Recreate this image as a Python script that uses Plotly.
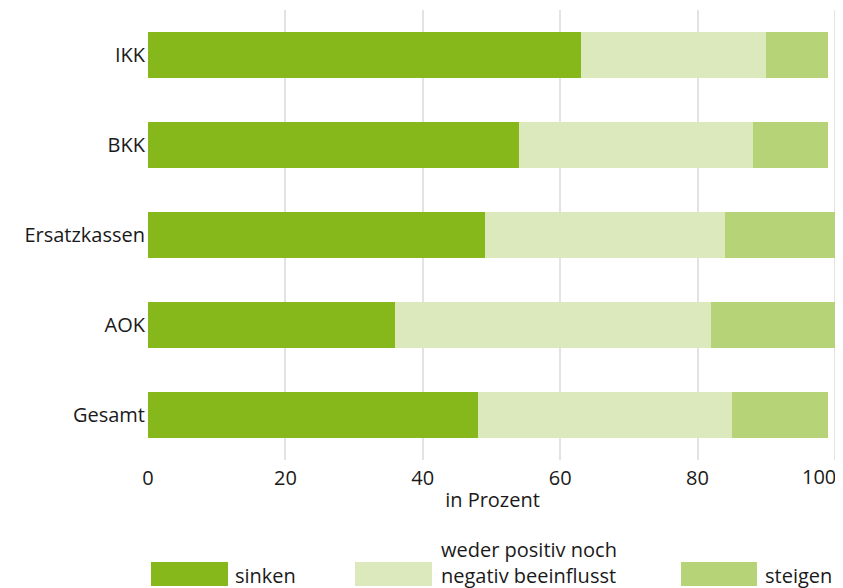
import plotly.graph_objects as go

categories = ["IKK", "BKK", "Ersatzkassen", "AOK", "Gesamt"]
series_names = ["sinken", "weder positiv noch<br>negativ beeinflusst", "steigen"]
sinken = [63, 54, 49, 36, 48]
weder = [27, 34, 35, 46, 37]
steigen = [9, 11, 16, 18, 14]
colors = ["#86b81b", "#dbe9bc", "#b6d477"]
x_ticks = [0, 20, 40, 60, 80, 100]
x_ticktext = [str(v) for v in x_ticks]

FONT = "Open Sans"
FS = 20
OFF = 8  # page body margin
W, H = 843 - OFF, 588 - OFF
# plot area in page pixels: x 148..837, y 10..460 (100 lands at ~835)
L, R = 148 - OFF, 843 - 837
T, B = 10 - OFF, 588 - 460
pw, ph = W - L - R, H - T - B

fig = go.Figure()
for name, vals, col in zip(series_names, [sinken, weder, steigen], colors):
    fig.add_trace(go.Bar(
        y=categories, x=vals, name=name, orientation="h",
        marker=dict(color=col, line=dict(width=0)),
        showlegend=False, hoverinfo="x+y"))

def px2paper(x, y):
    # page pixel -> paper coords
    return (x - 148) / pw, (460 - y) / ph

# manual legend (large swatches), positions in page pixels
legend_items = [(151, 228, 233, 575), (355, 432, 439, 562), (681, 757, 763, 575)]
shapes = []
annotations = []
for (x0, x1, tx, ty), name, col in zip(legend_items, series_names, colors):
    a0, b0 = px2paper(x0, 586)
    a1, b1 = px2paper(x1, 562)
    shapes.append(dict(type="rect", xref="paper", yref="paper", x0=a0, x1=a1,
                       y0=b0, y1=b1, fillcolor=col, line=dict(width=0), layer="above"))
    ta, tb = px2paper(tx, ty)
    annotations.append(dict(xref="paper", yref="paper", x=ta, y=tb, text=name,
                            showarrow=False, xanchor="left", yanchor="middle",
                            align="left", font=dict(family=FONT, size=FS, color="#1a1a1a")))

# last tick label pulled inside the page (as in the reference)
_, ly = px2paper(0, 477)
annotations.append(dict(xref="x", yref="paper", x=x_ticks[-1], y=ly, text=x_ticktext[-1],
                        showarrow=False, xanchor="right", yanchor="middle", xshift=3,
                        font=dict(family=FONT, size=FS, color="#1a1a1a")))
tick_labels_shown = x_ticktext[:-1] + [""]

fig.update_layout(
    width=W, height=H,
    margin=dict(l=L, r=R, t=T, b=B, autoexpand=False),
    barmode="stack", bargap=0.49,
    plot_bgcolor="white", paper_bgcolor="white",
    font=dict(family=FONT, size=FS, color="#1a1a1a"),
    xaxis=dict(range=[0, 100.3], tickvals=x_ticks, ticktext=tick_labels_shown,
               showgrid=True, gridcolor="#e3e3e3",
               gridwidth=2, zeroline=False, showline=False, ticks="",
               ticklabelstandoff=4, ticklabeloverflow="allow",
               title=dict(text="in Prozent", standoff=2, font=dict(size=FS)),
               tickfont=dict(size=FS), fixedrange=True, automargin=False),
    yaxis=dict(categoryorder="array", categoryarray=categories[::-1],
               showgrid=False, zeroline=False, showline=False, ticks="",
               ticklabelstandoff=2, tickfont=dict(size=FS), fixedrange=True,
               automargin=False),
    shapes=shapes, annotations=annotations,
    showlegend=False,
)

fig.write_html("out.html")
